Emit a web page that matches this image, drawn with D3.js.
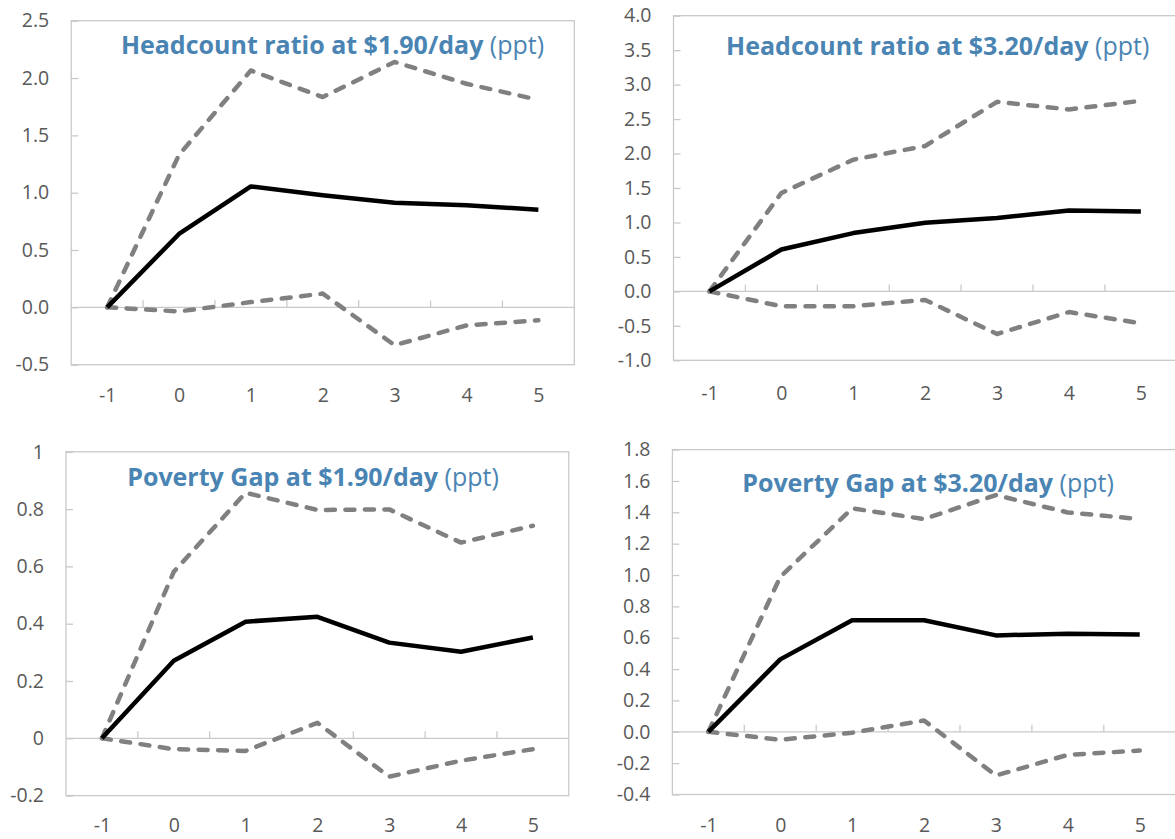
<!DOCTYPE html>
<html>
<head>
<meta charset="utf-8">
<script src="https://cdn.jsdelivr.net/npm/d3@7"></script>
<style>
  html, body { margin: 0; padding: 0; background: #ffffff; }
  svg { display: block; }
  .tick text { font-family: "Open Sans", "Noto Sans", sans-serif; font-size: 19.5px; fill: #595959; }
</style>
</head>
<body>
<svg id="chart" width="1175" height="839"></svg>
<script>
// Horizons (years relative to the shock)
const horizons = ["-1", "0", "1", "2", "3", "4", "5"];

// Headcount ratio at $1.90/day (ppt)
const hc190Mid = [0, 0.64, 1.055, 0.977, 0.913, 0.89, 0.852];
const hc190Upper = [0, 1.33, 2.066, 1.834, 2.14, 1.95, 1.81];
const hc190Lower = [0, -0.035, 0.046, 0.12, -0.33, -0.157, -0.113];
const hc190Ticks = [-0.5, 0, 0.5, 1, 1.5, 2, 2.5];
const hc190TickLabels = ["-0.5", "0.0", "0.5", "1.0", "1.5", "2.0", "2.5"];

// Headcount ratio at $3.20/day (ppt)
const hc320Mid = [0, 0.607, 0.846, 0.996, 1.064, 1.174, 1.16];
const hc320Upper = [0, 1.427, 1.911, 2.11, 2.75, 2.64, 2.765];
const hc320Lower = [0, -0.215, -0.215, -0.124, -0.618, -0.30, -0.462];
const hc320Ticks = [-1, -0.5, 0, 0.5, 1, 1.5, 2, 2.5, 3, 3.5, 4];
const hc320TickLabels = ["-1.0", "-0.5", "0.0", "0.5", "1.0", "1.5", "2.0", "2.5", "3.0", "3.5", "4.0"];

// Poverty gap at $1.90/day (ppt)
const pg190Mid = [0, 0.271, 0.407, 0.424, 0.334, 0.302, 0.352];
const pg190Upper = [0, 0.581, 0.857, 0.797, 0.799, 0.683, 0.742];
const pg190Lower = [0, -0.038, -0.044, 0.054, -0.134, -0.078, -0.038];
const pg190Ticks = [-0.2, 0, 0.2, 0.4, 0.6, 0.8, 1];
const pg190TickLabels = ["-0.2", "0", "0.2", "0.4", "0.6", "0.8", "1"];

// Poverty gap at $3.20/day (ppt)
const pg320Mid = [0, 0.462, 0.711, 0.711, 0.615, 0.626, 0.62];
const pg320Upper = [0, 0.988, 1.425, 1.357, 1.51, 1.399, 1.357];
const pg320Lower = [0, -0.051, -0.006, 0.072, -0.279, -0.147, -0.12];
const pg320Ticks = [-0.4, -0.2, 0, 0.2, 0.4, 0.6, 0.8, 1, 1.2, 1.4, 1.6, 1.8];
const pg320TickLabels = ["-0.4", "-0.2", "0.0", "0.2", "0.4", "0.6", "0.8", "1.0", "1.2", "1.4", "1.6", "1.8"];

const panels = [
  { title: "Headcount ratio at $1.90/day", mid: hc190Mid, upper: hc190Upper, lower: hc190Lower,
    ticks: hc190Ticks, labels: hc190TickLabels,
    box: { left: 71.2, right: 574.3, top: 20.7, bottom: 364.7 }, titleX: 332.5, titleY: 54, xPad: 23.6 },
  { title: "Headcount ratio at $3.20/day", mid: hc320Mid, upper: hc320Upper, lower: hc320Lower,
    ticks: hc320Ticks, labels: hc320TickLabels,
    box: { left: 673.5, right: 1176.8, top: 15.7, bottom: 360.3 }, titleX: 937.7, titleY: 54.8, xPad: 25.5 },
  { title: "Poverty Gap at $1.90/day", mid: pg190Mid, upper: pg190Upper, lower: pg190Lower,
    ticks: pg190Ticks, labels: pg190TickLabels,
    box: { left: 66, right: 568.8, top: 451.8, bottom: 795.6 }, titleX: 313, titleY: 485.5, xPad: 22.5 },
  { title: "Poverty Gap at $3.20/day", mid: pg320Mid, upper: pg320Upper, lower: pg320Lower,
    ticks: pg320Ticks, labels: pg320TickLabels,
    box: { left: 672.4, right: 1175.7, top: 449.6, bottom: 794.5 }, titleX: 928, titleY: 492.2, xPad: 23.6 }
];

const svg = d3.select("#chart");
const frameColor = "#c9c9c9";

panels.forEach(p => {
  const b = p.box;
  const x = d3.scalePoint().domain(horizons).range([b.left, b.right]).padding(0.5);
  const y = d3.scaleLinear().domain([p.ticks[0], p.ticks[p.ticks.length - 1]]).range([b.bottom, b.top]);
  const g = svg.append("g");

  // plot frame
  g.append("rect")
    .attr("x", b.left).attr("y", b.top)
    .attr("width", b.right - b.left).attr("height", b.bottom - b.top)
    .attr("fill", "none").attr("stroke", frameColor).attr("stroke-width", 1.3);

  // value axis: inward ticks and labels
  const yAxis = d3.axisLeft(y)
    .tickValues(p.ticks)
    .tickFormat((d, i) => p.labels[i])
    .tickSize(-7)
    .tickPadding(22);
  const ya = g.append("g").attr("transform", `translate(${b.left},0)`).call(yAxis);
  ya.select(".domain").remove();
  ya.selectAll(".tick line").attr("stroke", frameColor).attr("stroke-width", 1.3);

  // category labels along the bottom
  const xAxis = d3.axisBottom(x).tickSize(0).tickPadding(p.xPad);
  const xa = g.append("g").attr("transform", `translate(0,${b.bottom})`).call(xAxis);
  xa.select(".domain").remove();

  // category axis at zero with tick marks between horizons
  const y0 = y(0);
  g.append("line")
    .attr("x1", b.left).attr("x2", b.right).attr("y1", y0).attr("y2", y0)
    .attr("stroke", frameColor).attr("stroke-width", 1.3);
  const step = x.step();
  g.selectAll("line.cat-tick")
    .data(horizons.slice(1))
    .join("line")
    .attr("class", "cat-tick")
    .attr("x1", d => x(d) - step / 2).attr("x2", d => x(d) - step / 2)
    .attr("y1", y0).attr("y2", y0 - 7)
    .attr("stroke", frameColor).attr("stroke-width", 1.3);

  const line = d3.line().x((d, i) => x(horizons[i])).y(d => y(d));

  // confidence bands
  [p.upper, p.lower].forEach(series => {
    g.append("path")
      .attr("d", line(series))
      .attr("fill", "none")
      .attr("stroke", "#808080")
      .attr("stroke-width", 4.5)
      .attr("stroke-dasharray", "9,10.5")
      .attr("stroke-linecap", "round")
      .attr("stroke-linejoin", "round");
  });

  // point estimate
  g.append("path")
    .attr("d", line(p.mid))
    .attr("fill", "none")
    .attr("stroke", "#000000")
    .attr("stroke-width", 4.5)
    .attr("stroke-linejoin", "round");

  // title
  const t = g.append("text")
    .attr("x", p.titleX).attr("y", p.titleY)
    .attr("text-anchor", "middle")
    .attr("font-family", "'Open Sans', 'Noto Sans', sans-serif")
    .attr("font-size", 25)
    .attr("fill", "#4a84b3");
  t.append("tspan").attr("font-weight", "bold").text(p.title);
  t.append("tspan").attr("font-weight", "normal").text(" (ppt)");
});
</script>
</body>
</html>
